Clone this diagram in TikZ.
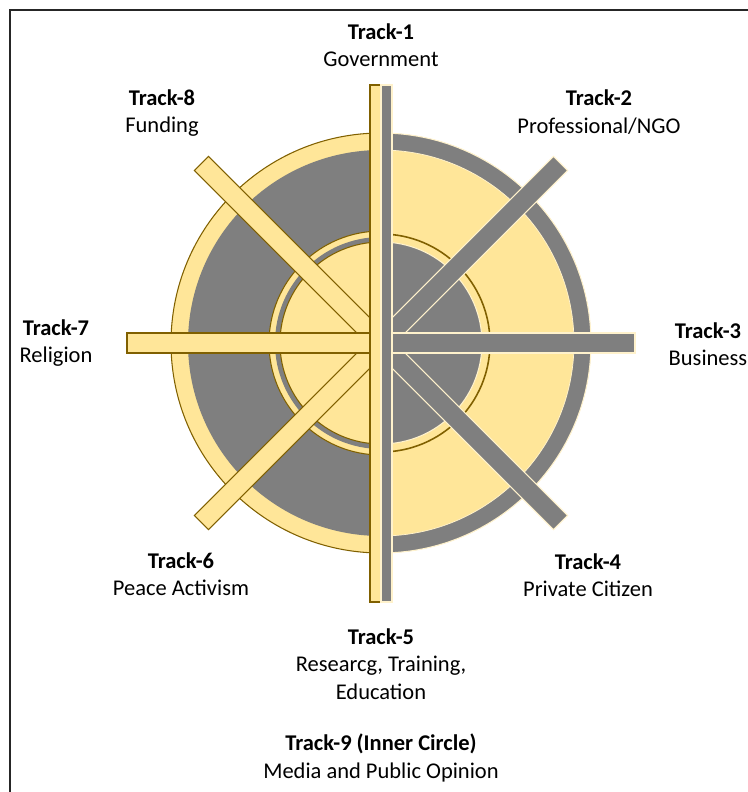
\documentclass[tikz,border=0pt]{standalone}
\usepackage{fontspec}
\setmainfont{Carlito}
\usepackage{xcolor}

\definecolor{trackgold}{HTML}{FFE699}
\definecolor{trackgray}{HTML}{7F7F7F}
\definecolor{trackedge}{HTML}{806000}
\definecolor{tracklight}{HTML}{FFF2CC}

\tikzset{
  goldpart/.style={fill=trackgold, draw=trackedge, line width=0.6pt},
  graypart/.style={fill=trackgray, draw=tracklight, line width=0.6pt},
  tracklabel/.style={align=center, font=\fontsize{12.8}{15.6}\selectfont},
}

\begin{document}
\begin{tikzpicture}[x=0.02cm, y=-0.02cm]
    \useasboundingbox (0,0) rectangle (748,792);
    \clip (0,0) rectangle (748,792);
    \draw[line width=1.4pt, black!85] (10,10) rectangle (770,820);

    \coordinate (C) at (381,343);

    % left half of the wheel
    \begin{scope}
        \clip (0,0) rectangle (381,792);
        \draw[goldpart] (C) circle[radius=210];
        \fill[trackgray] (C) circle[radius=193];
        \draw[goldpart] (C) circle[radius=112];
        \fill[trackgray] (C) circle[radius=106];
        \draw[goldpart] (C) circle[radius=101];
    \end{scope}

    % right half of the wheel
    \begin{scope}
        \clip (381,0) rectangle (748,792);
        \draw[graypart] (C) circle[radius=210];
        \draw[fill=trackgold, draw=tracklight] (C) circle[radius=193];
        \draw[trackedge, line width=0.9pt] (C) circle[radius=109];
        \draw[graypart] (C) circle[radius=101];
    \end{scope}

    % spokes
    \foreach \ang in {135,225,180}
        \draw[goldpart, shift={(C)}, rotate=\ang] (0,-10) -- (254,-10) -- (254,10) -- (0,10) -- cycle;
    \foreach \ang in {45,-45,0}
        \draw[graypart, shift={(C)}, rotate=\ang] (0,-10) -- (254,-10) -- (254,10) -- (0,10) -- cycle;

    % track-1 / track-5 bar
    \draw[goldpart] (370,85) rectangle (381,602);
    \draw[graypart] (381,85) rectangle (392,602);

    \node[tracklabel] (t1) at (381,45) {\textbf{Track-1}\\Government};
    \node[tracklabel] (t2) at (599,112) {\textbf{Track-2}\\Professional/NGO};
    \node[tracklabel] (t3) at (708,344) {\textbf{Track-3}\\Business};
    \node[tracklabel] (t4) at (588,575) {\textbf{Track-4}\\Private Citizen};
    \node[tracklabel] (t5) at (381,664) {\textbf{Track-5}\\Researcg, Training,\\Education};
    \node[tracklabel] (t6) at (181,574) {\textbf{Track-6}\\Peace Activism};
    \node[tracklabel] (t7) at (56,343) {\textbf{Track-7}\\Religion};
    \node[tracklabel] (t8) at (162,113) {\textbf{Track-8}\\Funding};
    \node[tracklabel] (t9) at (381,758) {\textbf{Track-9 (Inner Circle)}\\Media and Public Opinion};
\end{tikzpicture}
\end{document}
